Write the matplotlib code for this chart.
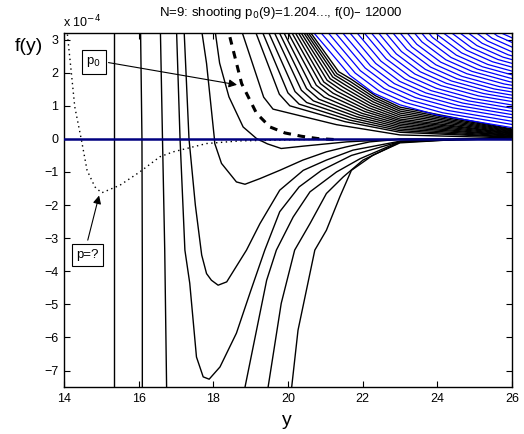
import matplotlib
matplotlib.use("Agg")
import matplotlib.pyplot as plt

plt.rcParams['font.family'] = ['Liberation Sans', 'DejaVu Sans']

# ---- data (f values in units of 1e-4) ----
dotted_x = [14.08, 14.20, 14.29, 14.47, 14.62, 14.83, 15.01, 15.5, 16.03, 16.57, 16.93, 17.82, 18.71, 19.6, 20.5, 21.0]
dotted_y = [3.3, 1.98, 0.97, -0.04, -0.95, -1.45, -1.63, -1.40, -1.0, -0.54, -0.39, -0.14, -0.06, -0.04, -0.02, -0.01]

dashed_x = [18.38, 18.40, 18.76, 19.16, 19.52, 19.92, 20.36, 20.8, 21.26]
dashed_y = [3.5, 3.28, 1.67, 0.77, 0.36, 0.18, 0.08, 0.01, -0.02]

lower_curves = [
    ([15.34, 15.34], [3.5, -8.0]),
    ([16.05, 16.09, 16.10, 16.10], [3.5, 0.0, -4.0, -8.0]),
    ([16.58, 16.64, 16.70, 16.75, 16.76], [3.5, 0.0, -3.36, -7.5, -8.0]),
    # big U
    ([17.01, 17.11, 17.24, 17.37, 17.55, 17.73, 17.89, 18.18, 18.62, 19.0, 19.38, 19.78, 20.3, 20.9, 21.7, 23.0, 24.5, 26.0],
     [3.5, 0.0, -3.36, -4.36, -6.59, -7.19, -7.26, -6.89, -5.87, -4.6, -3.36, -2.2, -1.45, -0.95, -0.5, -0.08, -0.02, 0.0]),
    # small U
    ([17.21, 17.35, 17.52, 17.69, 17.82, 17.95, 18.13, 18.36, 18.89, 19.25, 19.78, 20.41, 21.03, 21.74, 23.0, 24.5, 26.0],
     [3.5, 0.0, -2.0, -3.51, -4.07, -4.27, -4.42, -4.32, -3.36, -2.56, -1.55, -0.95, -0.64, -0.34, -0.07, -0.02, 0.0]),
    # curve with shallow minimum
    ([17.66, 17.82, 18.03, 18.04, 18.22, 18.62, 18.85, 19.25, 19.78, 20.4, 21.03, 21.57, 22.19, 23.0, 24.5, 26.0],
     [3.5, 2.28, 0.01, -0.14, -0.74, -1.30, -1.37, -1.2, -0.95, -0.64, -0.39, -0.24, -0.09, -0.01, -0.01, 0.0]),
    # curve dipping just below zero
    ([18.02, 18.17, 18.42, 18.80, 19.16, 19.45, 19.82, 20.4, 21.57, 23.0, 26.0],
     [3.5, 2.29, 1.27, 0.36, 0.01, -0.15, -0.29, -0.22, -0.09, -0.01, 0.0]),
    # steep curves reaching the bottom
    ([18.80, 18.85, 19.25, 19.43, 19.69, 20.14, 20.59, 21.30, 21.93, 23.0, 24.5, 26.0],
     [-8.0, -7.5, -5.27, -4.27, -3.36, -2.36, -1.6, -1.0, -0.6, -0.08, -0.02, 0.0]),
    ([19.40, 19.47, 19.82, 20.18, 20.59, 21.03, 21.48, 22.01, 23.0, 24.5, 26.0],
     [-8.0, -7.49, -4.97, -3.36, -2.56, -1.65, -1.15, -0.64, -0.1, -0.02, 0.0]),
    ([20.08, 20.10, 20.27, 20.72, 21.03, 21.39, 21.70, 22.28, 23.0, 24.5, 26.0],
     [-8.0, -7.5, -5.78, -3.36, -2.76, -1.75, -0.95, -0.49, -0.12, -0.02, 0.0]),
]

# upper black family: top crossing, bend points, value at y=23 and at y=26
black_top_x = [18.75, 19.11, 19.29, 19.45, 19.60, 19.73, 19.85, 19.96, 20.06, 20.15, 20.23, 20.30, 20.37, 20.43, 20.49, 20.55]
black_pre_x = [19.35, 19.77, 20.00, 20.19, 20.36, 20.50, 20.63, 20.76, 20.87, 20.96, 21.05, 21.13, 21.20, 21.26, 21.31, 21.36]
black_pre_y = [1.26, 1.35, 1.39, 1.43, 1.47, 1.52, 1.57, 1.62, 1.67, 1.72, 1.77, 1.82, 1.87, 1.92, 1.97, 2.03]
black_knee_x = [19.60, 20.05, 20.30, 20.50, 20.68, 20.83, 20.97, 21.10, 21.21, 21.31, 21.40, 21.48, 21.55, 21.61, 21.66, 21.70]
black_knee_y = [0.90, 1.00, 1.05, 1.10, 1.15, 1.20, 1.26, 1.32, 1.38, 1.44, 1.50, 1.56, 1.62, 1.68, 1.74, 1.80]
black_mid_x = [21.30, 21.53, 21.65, 21.75, 21.84, 21.92, 21.99, 22.05, 22.11, 22.16, 22.20, 22.24, 22.28, 22.31, 22.33, 22.35]
black_mid_y = [0.43, 0.52, 0.57, 0.62, 0.67, 0.72, 0.77, 0.83, 0.88, 0.94, 1.00, 1.06, 1.12, 1.18, 1.24, 1.30]
black_y23 = [0.12, 0.20, 0.25, 0.30, 0.35, 0.40, 0.45, 0.50, 0.55, 0.60, 0.66, 0.72, 0.78, 0.84, 0.90, 0.96]
black_end = [0.03, 0.05, 0.06, 0.08, 0.10, 0.11, 0.13, 0.15, 0.17, 0.18, 0.20, 0.22, 0.24, 0.26, 0.28, 0.30]

# blue family: one base trajectory, each line is it shifted by (dx, dy)
blue_base_x = [20.45, 20.62, 21.00, 21.66, 22.30, 23.00, 24.00, 26.00]
blue_base_y = [3.55, 3.30, 2.80, 1.92, 1.38, 1.03, 0.72, 0.34]
blue_dx = [0.00, 0.14, 0.28, 0.41, 0.55, 0.69, 0.83, 0.97, 1.10, 1.24, 1.38, 1.52, 1.66, 1.79,
           1.93, 2.07, 2.21, 2.35, 2.48, 2.62, 2.76, 2.90, 3.04, 3.17, 3.31, 3.45, 3.59, 3.73]
blue_dy = [0.00, 0.07, 0.14, 0.22, 0.29, 0.36, 0.43, 0.50, 0.58, 0.65, 0.72, 0.79, 0.86, 0.94,
           1.01, 1.08, 1.15, 1.22, 1.30, 1.37, 1.44, 1.51, 1.58, 1.66, 1.73, 1.80, 1.87, 1.94]
TOP = 3.3

x_ticks = [14, 16, 18, 20, 22, 24, 26]
y_ticks = [-7, -6, -5, -4, -3, -2, -1, 0, 1, 2, 3]

fig = plt.figure(figsize=(5.24, 4.34), dpi=100)
ax = fig.add_axes([0.122, 0.108, 0.855, 0.816])

for xs, ys in lower_curves:
    ax.plot(xs, ys, color='black', lw=1.0)

for t, px, py, kx, ky, mx, my, y23, ye in zip(black_top_x, black_pre_x, black_pre_y, black_knee_x, black_knee_y,
                                              black_mid_x, black_mid_y, black_y23, black_end):
    ax.plot([t, px, kx, mx, 23.0, 26.0], [TOP, py, ky, my, y23, ye], color='black', lw=1.0)

for dx, dy in zip(blue_dx, blue_dy):
    ax.plot([x + dx for x in blue_base_x], [y + dy for y in blue_base_y], color='#0000ff', lw=0.9)

ax.plot(dashed_x, dashed_y, color='black', lw=2.2, ls=(0, (2.5, 2.2)))
ax.plot(dotted_x, dotted_y, color='black', lw=1.0, ls=(0, (1, 2.5)))
ax.axhline(0, color='#000080', lw=1.8, zorder=5)

ax.set_xlim(14, 26)
ax.set_ylim(-7.5, 3.2)
ax.set_xticks(x_ticks)
ax.set_yticks(y_ticks)
ax.tick_params(direction='in', top=True, right=True, length=4, width=0.8, labelsize=9, pad=4)
for s in ax.spines.values():
    s.set_linewidth(1.0)

# annotations
ax.text(14.8, 2.32, 'p$_0$', fontsize=9.5, ha='center', va='center',
        bbox=dict(boxstyle='square,pad=0.35', fc='white', ec='black', lw=0.8), zorder=6)
ax.annotate('', xy=(18.71, 1.62), xytext=(15.12, 2.32),
            arrowprops=dict(arrowstyle='-|>', color='black', lw=0.8, mutation_scale=12), zorder=6)
ax.text(14.63, -3.51, 'p=?', fontsize=9.5, ha='center', va='center',
        bbox=dict(boxstyle='square,pad=0.35', fc='white', ec='black', lw=0.8), zorder=6)
ax.annotate('', xy=(14.96, -1.63), xytext=(14.62, -3.14),
            arrowprops=dict(arrowstyle='-|>', color='black', lw=0.8, mutation_scale=12), zorder=6)

fig.text(0.535, 0.969, 'N=9: shooting p$_0$(9)=1.204..., f(0)\u2013 12000', fontsize=9.5, ha='center', va='center')
fig.text(0.121, 0.949, 'x 10$^{-4}$', fontsize=9, ha='left', va='center')
fig.text(0.028, 0.892, 'f(y)', fontsize=14, ha='left', va='center')
fig.text(0.548, 0.032, 'y', fontsize=14, ha='center', va='center')

fig.savefig('out.png', dpi=100)
